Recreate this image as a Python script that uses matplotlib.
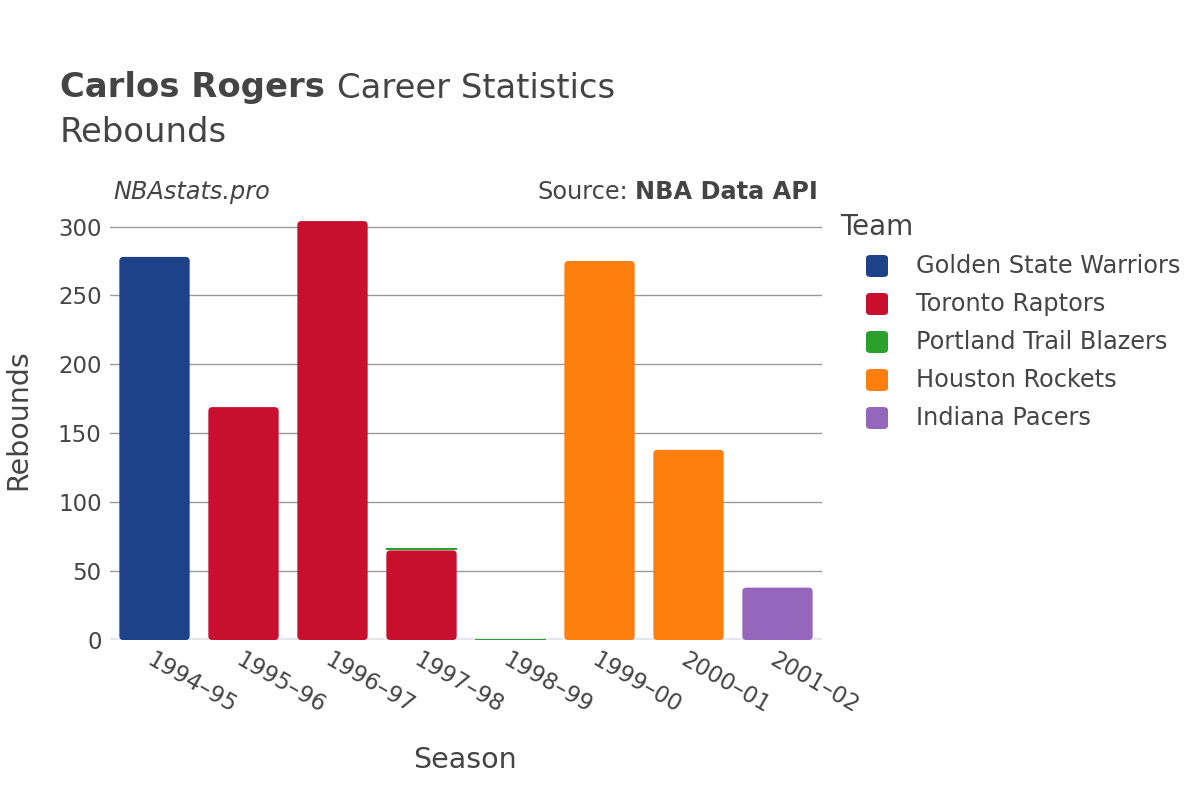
"""Carlos Rogers career rebounds, stacked by team."""

import numpy as np
import matplotlib
matplotlib.use("Agg")
import matplotlib.pyplot as plt
import matplotlib.patches as patches

plt.rcParams['font.family'] = ['DejaVu Sans']

seasons = ["1994–95", "1995–96", "1996–97", "1997–98", "1998–99", "1999–00", "2000–01", "2001–02"]
teams = ["Golden State Warriors", "Toronto Raptors", "Portland Trail Blazers", "Houston Rockets", "Indiana Pacers"]
team_colors = ["#1d428a", "#c8102e", "#2ca02c", "#ff7f0e", "#9467bd"]

gsw = [278, 0, 0, 0, 0, 0, 0, 0]
tor = [0, 169, 304, 65, 0, 0, 0, 0]
por = [0, 0, 0, 2, 1, 0, 0, 0]
hou = [0, 0, 0, 0, 0, 275, 138, 0]
ind = [0, 0, 0, 0, 0, 0, 0, 38]
team_values = [gsw, tor, por, hou, ind]

text_color = "#444444"

fig = plt.figure(figsize=(12, 8), dpi=100)
ax_w, ax_h = 712, 427.2
ax = fig.add_axes([110 / 1200, 0.2, ax_w / 1200, ax_h / 800])

x = np.arange(len(seasons))
ymax = 310
ax.set_xlim(-0.5, len(seasons) - 0.5)
ax.set_ylim(0, ymax)

# pixel scale, used to round bar corners evenly
px_x = ax_w / len(seasons)
px_y = ax_h / ymax
aspect = px_x / px_y
r = 4 / px_x

bottom = np.zeros(len(seasons))
for name, vals, color in zip(teams, team_values, team_colors):
    vals = np.array(vals, dtype=float)
    bars = ax.bar(x, vals, width=0.79, bottom=bottom, color=color, label=name, zorder=3)
    for rect in bars:
        h = rect.get_height()
        if h * px_y > 10:
            rect.set_visible(False)
            ax.add_patch(patches.FancyBboxPatch(
                (rect.get_x(), rect.get_y()), rect.get_width(), h,
                boxstyle=f"round,pad=0,rounding_size={r}", mutation_aspect=aspect,
                facecolor=color, edgecolor='none', zorder=3))
    bottom += vals

ax.set_yticks([0, 50, 100, 150, 200, 250, 300])
ax.grid(axis='y', color='#999999', linewidth=1, zorder=0)
ax.axhline(0, color='#e6e6ee', linewidth=3, zorder=2)
for s in ax.spines.values():
    s.set_visible(False)
ax.tick_params(length=0, labelsize=16.5, labelcolor=text_color, pad=6)
ax.set_xticks(x)
ax.set_xticklabels(seasons, rotation=-30, ha='left', rotation_mode='anchor')
fig.text(465 / 1200, 1 - 760 / 800, "Season", fontsize=20.5, color=text_color,
         ha='center', va='center')
fig.text(18 / 1200, 1 - 420 / 800, "Rebounds", fontsize=20.5, color=text_color,
         ha='center', va='center', rotation=90)

# title block
fig.text(60 / 1200, 1 - 88 / 800, "Carlos Rogers", fontsize=24.4, fontweight='bold',
         color=text_color, va='center')
fig.text(337 / 1200, 1 - 88 / 800, "Career Statistics", fontsize=24.4,
         color=text_color, va='center')
fig.text(60 / 1200, 1 - 132 / 800, "Rebounds", fontsize=24.4, color=text_color, va='center')
fig.text(113 / 1200, 1 - 192 / 800, "NBAstats.pro", fontsize=17.3, style='italic',
         color=text_color, va='center')
fig.text(818 / 1200, 1 - 192 / 800, "NBA Data API", fontsize=17.3, fontweight='bold',
         color=text_color, va='center', ha='right')
fig.text(628 / 1200, 1 - 192 / 800, "Source:", fontsize=17.3,
         color=text_color, va='center', ha='right')

# legend
fig.text(840 / 1200, 1 - 227 / 800, "Team", fontsize=20, color=text_color, va='center')
for i, (name, color) in enumerate(zip(teams, team_colors)):
    yc = 1 - (266 + 38 * i) / 800
    fig.patches.append(patches.FancyBboxPatch(
        (866 / 1200, yc - 11 / 800), 22 / 1200, 22 / 800,
        boxstyle="round,pad=0,rounding_size=0.004",
        transform=fig.transFigure, facecolor=color, edgecolor='none'))
    fig.text(916 / 1200, yc, name, fontsize=17.3, color=text_color, va='center')

plt.savefig("out.png", dpi=100)
plt.close()
